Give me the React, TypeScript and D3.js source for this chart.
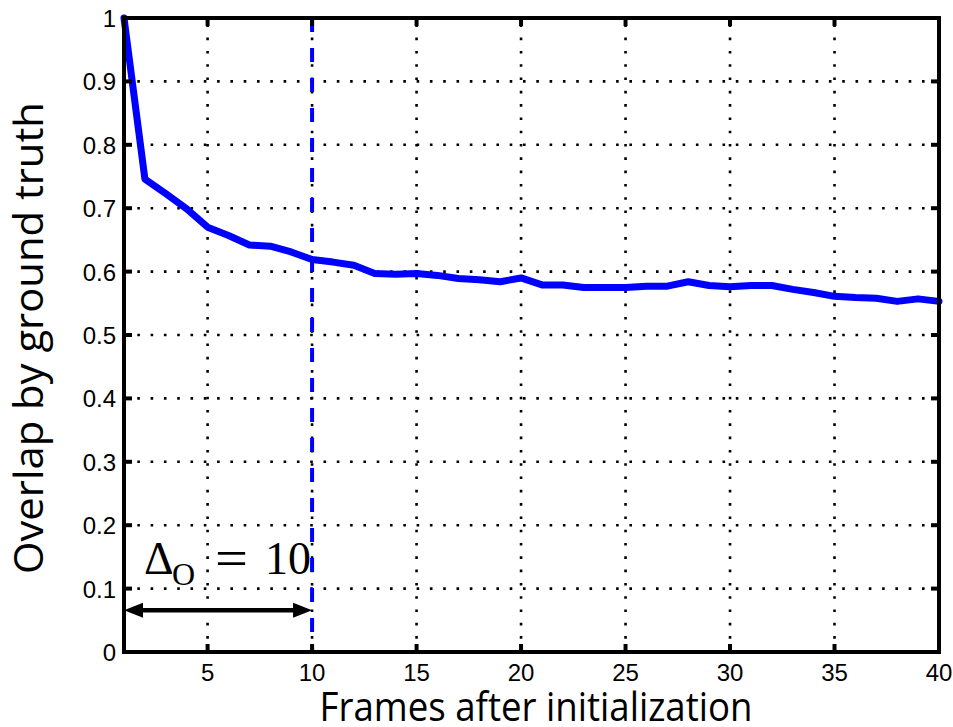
import React from "react";
import * as d3 from "d3";

// frames after initialization and mean overlap by ground truth
const frames = [1, 2, 3, 4, 5, 6, 7, 8, 9, 10, 11, 12, 13, 14, 15, 16, 17, 18, 19, 20,
  21, 22, 23, 24, 25, 26, 27, 28, 29, 30, 31, 32, 33, 34, 35, 36, 37, 38, 39, 40];
const overlap = [1.0, 0.746, 0.723, 0.699, 0.670, 0.657, 0.642, 0.640, 0.631, 0.619,
  0.615, 0.610, 0.597, 0.596, 0.597, 0.594, 0.589, 0.587, 0.584, 0.590,
  0.579, 0.579, 0.575, 0.575, 0.575, 0.577, 0.577, 0.584, 0.578, 0.576,
  0.578, 0.578, 0.572, 0.567, 0.561, 0.559, 0.558, 0.553, 0.557, 0.553];
const xTicks = [5, 10, 15, 20, 25, 30, 35, 40];
const yTicks = [0, 0.1, 0.2, 0.3, 0.4, 0.5, 0.6, 0.7, 0.8, 0.9, 1];
const deltaFrame = 10;
const arrowLevel = 0.066;

const W = 953;
const H = 727;
const left = 124, right = 939, top = 18, bottom = 652;

export default function App() {
  const x = d3.scaleLinear().domain([1, 40]).range([left, right]);
  const y = d3.scaleLinear().domain([0, 1]).range([bottom, top]);
  const line = d3
    .line<number>()
    .x((d, i) => x(frames[i]))
    .y((d) => y(d));

  const tickFont = "'Liberation Sans', Arial, sans-serif";
  const labelFont = "'Open Sans', 'Noto Sans', sans-serif";
  const ay = y(arrowLevel);
  const ax0 = x(1), ax1 = x(deltaFrame);

  return (
    <svg width={W} height={H} style={{ position: "absolute", left: 0, top: 0, background: "#fff" }}>
      {/* dotted grid */}
      <g stroke="#000" strokeWidth={2.6} strokeDasharray="2.6 10.7" fill="none">
        {xTicks.filter((t) => t < 40).map((t) => (
          <line key={"gx" + t} x1={x(t)} x2={x(t)} y1={bottom} y2={top} />
        ))}
        {yTicks.filter((t) => t > 0 && t < 1).map((t) => (
          <line key={"gy" + t} x1={left} x2={right} y1={y(t)} y2={y(t)} />
        ))}
      </g>

      {/* vertical marker at delta */}
      <line x1={x(deltaFrame)} x2={x(deltaFrame)} y1={top} y2={bottom}
        stroke="#0000ff" strokeWidth={4} strokeDasharray="14 16" />

      {/* data line */}
      <path d={line(overlap) || ""} fill="none" stroke="#0000ff" strokeWidth={7}
        strokeLinejoin="round" strokeLinecap="round" />

      {/* frame and ticks */}
      <rect x={left} y={top} width={right - left} height={bottom - top}
        fill="none" stroke="#000" strokeWidth={4} />
      <g stroke="#000" strokeWidth={4}>
        {xTicks.map((t) => (
          <g key={"tx" + t}>
            <line x1={x(t)} x2={x(t)} y1={bottom} y2={bottom - 8} />
            <line x1={x(t)} x2={x(t)} y1={top} y2={top + 8} />
          </g>
        ))}
        {yTicks.map((t) => (
          <g key={"ty" + t}>
            <line x1={left} x2={left + 8} y1={y(t)} y2={y(t)} />
            <line x1={right} x2={right - 8} y1={y(t)} y2={y(t)} />
          </g>
        ))}
      </g>

      {/* tick labels */}
      <g fontFamily={tickFont} fontSize={24} fill="#000">
        {xTicks.map((t) => (
          <text key={"lx" + t} x={x(t)} y={681} textAnchor="middle">{t}</text>
        ))}
        {yTicks.map((t) => (
          <text key={"ly" + t} x={116} y={y(t) + 9} textAnchor="end">{d3.format("~g")(t)}</text>
        ))}
      </g>

      {/* axis titles */}
      <text x={536} y={721} textAnchor="middle" fontFamily={labelFont} fontSize={41}
        textLength={433} lengthAdjust="spacingAndGlyphs" fill="#000">
        Frames after initialization
      </text>
      <text transform="translate(43,338) rotate(-90)" textAnchor="middle" fontFamily={labelFont}
        fontSize={41} textLength={472} lengthAdjust="spacingAndGlyphs" fill="#000">
        Overlap by ground truth
      </text>

      {/* delta annotation */}
      <g fontFamily="'Liberation Serif', 'DejaVu Serif', serif" fill="#000">
        <text x={144} y={574} fontSize={46}>Δ</text>
        <text x={172} y={585} fontSize={32}>O</text>
        <text x={215} y={576} fontSize={52} textLength={33} lengthAdjust="spacingAndGlyphs">=</text>
        <text x={265} y={574} fontSize={46}>10</text>
      </g>
      <line x1={ax0 + 14} x2={ax1 - 14} y1={ay} y2={ay} stroke="#000" strokeWidth={4.5} />
      <path d={`M${ax0},${ay} L${ax0 + 19},${ay - 7.5} L${ax0 + 19},${ay + 7.5} Z`} fill="#000" />
      <path d={`M${ax1},${ay} L${ax1 - 19},${ay - 7.5} L${ax1 - 19},${ay + 7.5} Z`} fill="#000" />
    </svg>
  );
}
